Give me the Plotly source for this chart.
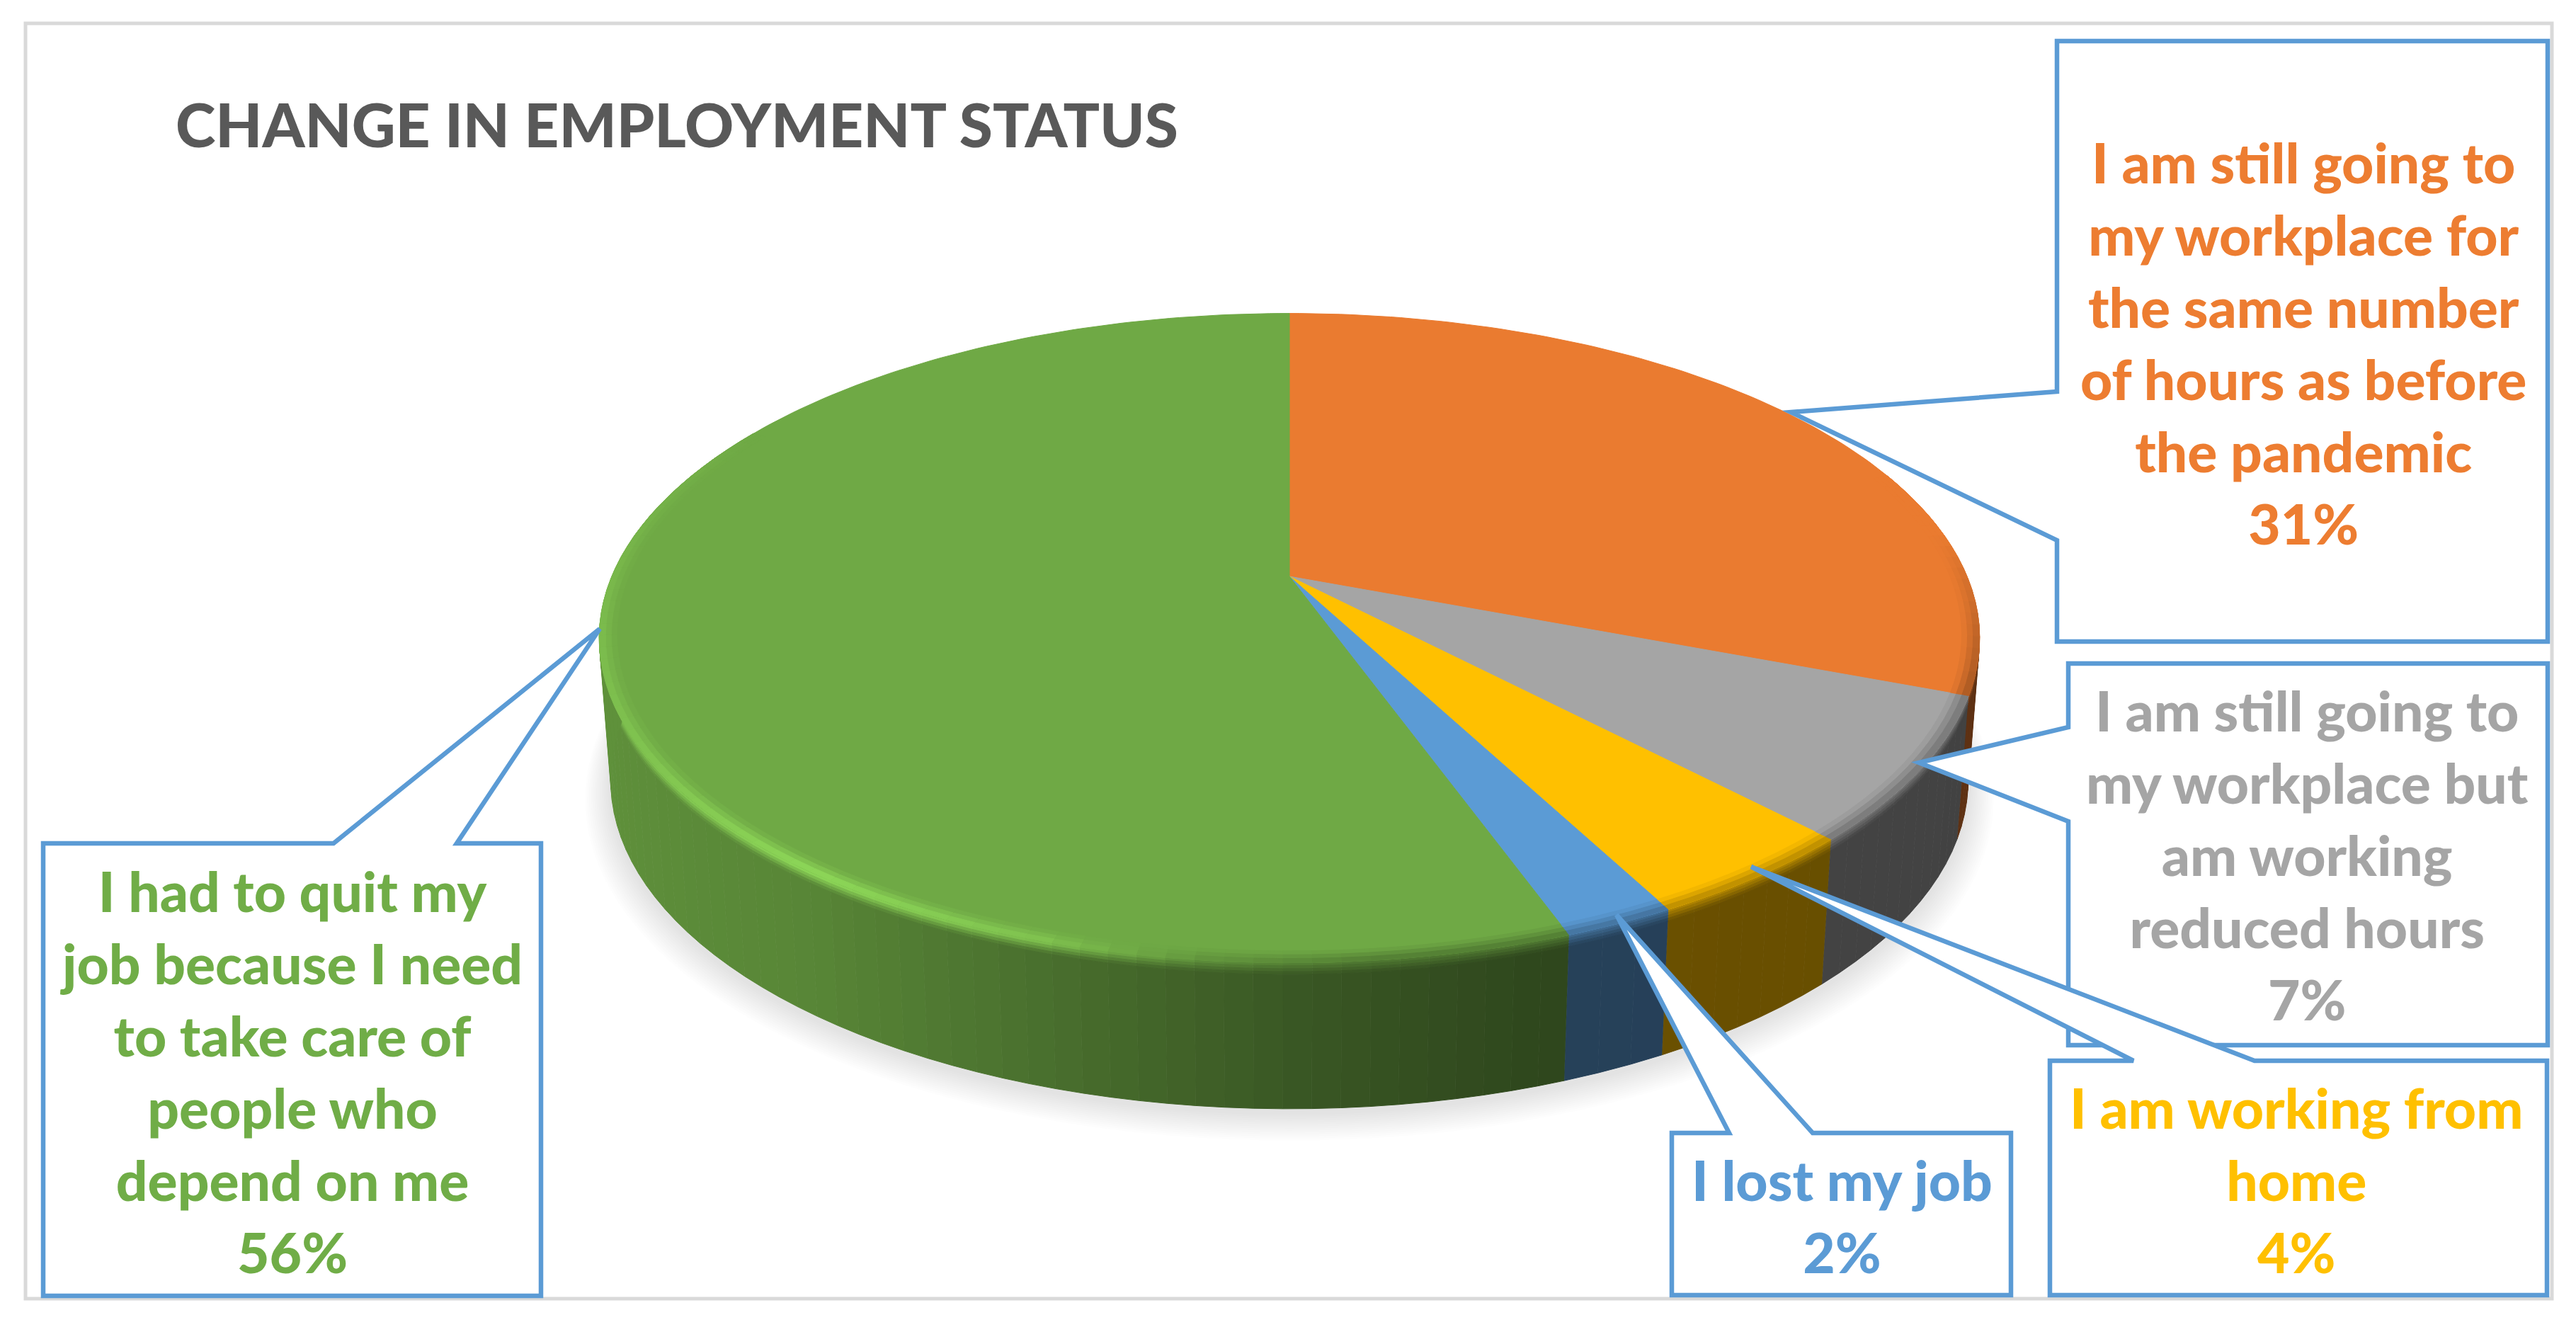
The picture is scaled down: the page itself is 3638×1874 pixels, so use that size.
from __future__ import annotations

import math

import numpy as np
import plotly.graph_objects as go

TITLE = "CHANGE IN EMPLOYMENT STATUS"

# clockwise from twelve o'clock
categories = [
    "I am still going to<br>my workplace for<br>the same number<br>of hours as before<br>the pandemic",
    "I am still going to<br>my workplace but<br>am working<br>reduced hours",
    "I am working from<br>home",
    "I lost my job",
    "I had to quit my<br>job because I need<br>to take care of<br>people who<br>depend on me",
]
# printed labels, and the unrounded shares as read from the slice edges
percent_labels = [31, 7, 4, 2, 56]
shares = [30.8, 7.1, 4.4, 2.2, 55.5]
colors = ["#ea7b30", "#a5a5a5", "#ffc000", "#5b9bd5", "#6fa945"]
text_colors = ["#ed7d31", "#a5a5a5", "#ffc000", "#5b9bd5", "#70ad47"]

WIDTH, HEIGHT = 3638, 1874
OUTLINE = "#5b9bd5"
FONT = "Lato"
LABEL_SIZE = 78.5

# perspective of the pie: screen = centre + scale * (X, -Y) / (1 + K * Y)
CX, K = 1821, 0.19
TOP = dict(cy=814, sx=957, sy=442)
BOTTOM = dict(cy=1014, sx=941, sy=447)

# callout outlines, one per category
callouts = [
    [(2905, 58), (3598, 58), (3598, 906), (2905, 906), (2905, 763), (2529, 582), (2905, 553)],
    [(2921, 937), (3598, 937), (3598, 1476), (2921, 1476), (2921, 1160), (2710, 1077), (2921, 1027)],
    [(2895, 1498), (3013, 1498), (2473, 1224), (3184, 1498), (3597, 1498), (3597, 1829), (2895, 1829)],
    [(2361, 1600), (2442, 1600), (2283, 1292), (2560, 1600), (2840, 1600), (2840, 1829), (2361, 1829)],
    [(61, 1191), (471, 1191), (847, 888), (645, 1191), (764, 1191), (764, 1830), (61, 1830)],
]
draw_order = [0, 1, 3, 4, 2]
label_centers = [(3253, 484), (3258, 1207), (3243, 1666), (2601, 1717), (411, 1513)]


def project(theta_deg, disc=TOP, radius=1.0):
    theta = np.radians(theta_deg)
    x_unit, y_unit = radius * np.sin(theta), radius * np.cos(theta)
    denom = 1 + K * y_unit
    return CX + disc["sx"] * x_unit / denom, disc["cy"] - disc["sy"] * y_unit / denom


def rim_point(theta_deg, radius, z):
    x0, y0 = project(theta_deg, TOP, radius)
    x1, y1 = project(theta_deg, BOTTOM, radius)
    return x0 + (x1 - x0) * z, y0 + (y1 - y0) * z


def scale_color(hex_color, factor):
    rgb = [int(hex_color[i : i + 2], 16) for i in (1, 3, 5)]
    rgb = [min(255, round(c * factor)) for c in rgb]
    return f"rgb({rgb[0]},{rgb[1]},{rgb[2]})"


def side_shade(theta_deg):
    x_unit = math.sin(math.radians(theta_deg))
    return float(np.interp(x_unit, [-1, -0.6, -0.3, 0, 0.3, 1], [0.86, 0.79, 0.66, 0.52, 0.42, 0.4]))


def edge_shade(theta_deg):
    # brightness right on the rim: a highlight at front left, a dark blur elsewhere
    x_unit = math.sin(math.radians(theta_deg))
    peak = float(np.interp(x_unit, [-1, -0.6, -0.3, -0.1, 0.1, 1], [1.12, 1.32, 1.18, 0.86, 0.72, 0.7]))
    weight = float(np.interp(theta_deg, [82, 108, 265, 300], [0, 1, 1, 0]))
    return 1 + (peak - 1) * weight


def polygon(xs, ys, color):
    return go.Scatter(
        x=list(xs),
        y=list(ys),
        mode="lines",
        fill="toself",
        fillcolor=color,
        line=dict(color=color, width=1),
        hoverinfo="skip",
        showlegend=False,
    )


def strip(base, left, right, a, b, shade):
    # a and b are (radius, z) pairs
    xl0, yl0 = rim_point(left, *a)
    xr0, yr0 = rim_point(right, *a)
    xr1, yr1 = rim_point(right, *b)
    xl1, yl1 = rim_point(left, *b)
    return polygon([xl0, xr0, xr1, xl1], [yl0, yr0, yr1, yl1], scale_color(base, shade))


fig = go.Figure()

# soft shadow under the pie
angles = np.linspace(0, 360, 181)
for step in range(14, 0, -1):
    shadow_disc = dict(BOTTOM, cy=BOTTOM["cy"] + 6 + step)
    sx, sy = project(angles, shadow_disc, 1 + step * 0.0026)
    fig.add_trace(
        go.Scatter(
            x=sx,
            y=sy,
            mode="lines",
            fill="toself",
            fillcolor="rgba(0,0,0,0.009)",
            line=dict(width=0),
            hoverinfo="skip",
            showlegend=False,
        )
    )

bounds = np.cumsum([0] + shares) * 3.6
z_rows = [0, 0.02, 0.04, 0.06, 0.08, 1.0]
ring_rows = [0.975, 0.983, 0.991, 1.0]


def columns(start, end):
    start, end = max(start, 70), min(end, 300)
    if end <= start:
        return []
    edges = np.linspace(start, end, max(3, int((end - start) / 2)) + 1)
    return list(zip(edges[:-1], edges[1:]))


# side of the pie, split into columns so the shading can turn with the angle
for base, start, end in zip(colors, bounds[:-1], bounds[1:]):
    for left, right in columns(start, end):
        mid = (left + right) / 2
        edge, side = edge_shade(mid), side_shade(mid)
        for z_a, z_b in zip(z_rows[:-1], z_rows[1:]):
            pos = min(1.0, (z_a + z_b) / 2 / 0.08)
            fig.add_trace(strip(base, left, right, (1.0, z_a), (1.0, z_b), edge + (side - edge) * pos))

# top of the pie
for base, start, end in zip(colors, bounds[:-1], bounds[1:]):
    arc = np.linspace(start, end, max(8, int(end - start)))
    ax, ay = project(arc)
    cx0, cy0 = project(np.array([0.0]), TOP, 0.0)
    fig.add_trace(polygon([cx0[0], *ax, cx0[0]], [cy0[0], *ay, cy0[0]], base))

# blur just inside the rim
for base, start, end in zip(colors, bounds[:-1], bounds[1:]):
    for left, right in columns(start, end):
        mid = (left + right) / 2
        edge = edge_shade(mid)
        for r_a, r_b in zip(ring_rows[:-1], ring_rows[1:]):
            pos = ((r_a + r_b) / 2 - 0.975) / 0.025
            fig.add_trace(strip(base, left, right, (r_a, 0.0), (r_b, 0.0), 1 + (edge - 1) * pos))

shapes = [
    dict(type="rect", x0=36, y0=33, x1=3604, y1=1834, layer="below",
         line=dict(color="#d9d9d9", width=5), fillcolor="white"),
]
for idx in draw_order:
    path = "M " + " L ".join(f"{x},{y}" for x, y in callouts[idx]) + " Z"
    shapes.append(
        dict(type="path", path=path, layer="above", fillcolor="white",
             line=dict(color=OUTLINE, width=6.5))
    )

annotations = [
    dict(
        x=x, y=y, xref="x", yref="y", text=f"{name}<br>{label}%", showarrow=False,
        align="center", xanchor="center", yanchor="middle",
        font=dict(family=FONT, size=LABEL_SIZE, color=color, weight=900),
    )
    for (x, y), name, label, color in zip(label_centers, categories, percent_labels, text_colors)
]

fig.update_layout(
    width=WIDTH,
    height=HEIGHT,
    margin=dict(l=0, r=0, t=0, b=0),
    paper_bgcolor="white",
    plot_bgcolor="white",
    showlegend=False,
    title=dict(
        text=TITLE, x=248 / WIDTH, y=1 - 178 / HEIGHT, xanchor="left", yanchor="middle",
        font=dict(family=FONT, size=85.5, color="#595959", weight=900),
    ),
    xaxis=dict(range=[0, WIDTH], visible=False, fixedrange=True),
    yaxis=dict(range=[HEIGHT, 0], visible=False, fixedrange=True),
    shapes=shapes,
    annotations=annotations,
)

fig.write_html(
    "out.html",
    config=dict(displayModeBar=False),
    post_script="document.body.style.margin='0';document.body.style.overflow='hidden';",
)
